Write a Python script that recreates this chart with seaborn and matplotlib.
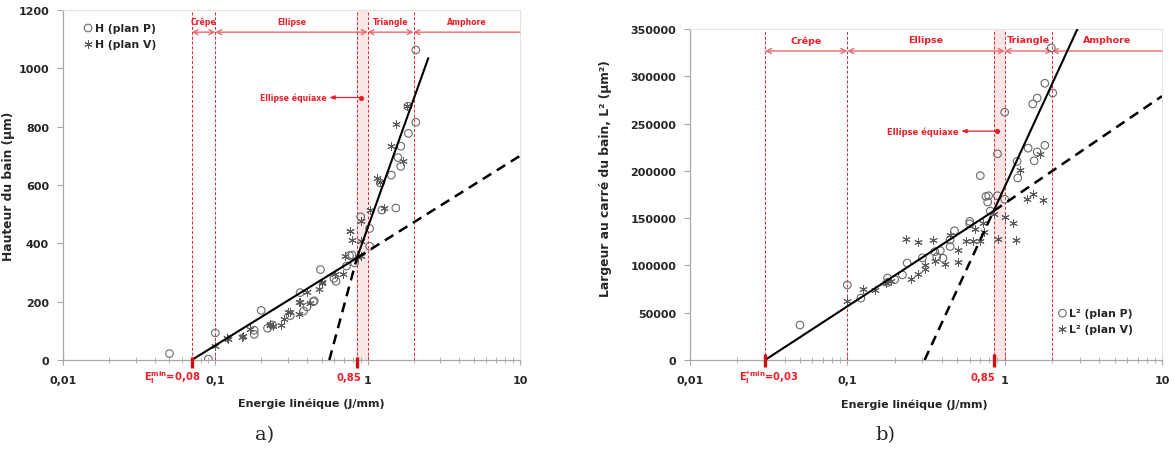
import numpy as np
import pandas as pd
import matplotlib
matplotlib.use("Agg")
import matplotlib.pyplot as plt
import matplotlib.transforms as mtransforms
import seaborn as sns

# ---------------- data : panel a) H ----------------
hp_x = [0.05, 0.09, 0.10, 0.18, 0.18, 0.20, 0.22, 0.237, 0.31, 0.36, 0.38, 0.40, 0.44, 0.446, 0.49,
        0.60, 0.62, 0.726, 0.76, 0.79, 0.82, 0.90, 1.03, 1.03, 1.21, 1.24, 1.43, 1.53, 1.58, 1.65,
        1.65, 1.84, 1.85, 2.07, 2.07]
hp_y = [22, 3, 93, 102, 88, 170, 109, 120, 152, 231, 168, 182, 200, 203, 310,
        280, 270, 322, 358, 360, 333, 491, 451, 390, 607, 514, 634, 521, 694, 733,
        664, 870, 777, 815, 1063]
hv_x = [0.10, 0.12, 0.121, 0.15, 0.152, 0.17, 0.229, 0.23, 0.24, 0.27, 0.284, 0.30, 0.31, 0.354,
        0.355, 0.36, 0.40, 0.42, 0.48, 0.50, 0.50, 0.61, 0.69, 0.71, 0.76, 0.77, 0.79, 0.87, 0.90,
        0.90, 0.90, 1.03, 1.16, 1.21, 1.28, 1.43, 1.53, 1.70, 1.81]
hv_y = [49, 74, 72, 80, 81, 106, 120, 122, 115, 120, 141, 166, 163, 157,
        198, 198, 234, 194, 245, 263, 268, 295, 295, 357, 443, 442, 412, 353, 357,
        409, 478, 516, 623, 609, 521, 735, 809, 683, 872]

# fit lines panel a)
fitA_low_x, fitA_low_y = [0.07, 0.85], [0, 350]
fitA_high_x, fitA_high_y = [0.85, 2.5], [350, 1035]
fitA_lowext_x, fitA_lowext_y = [0.85, 10], [350, 700]
fitA_highext_x, fitA_highext_y = [0.56, 0.85], [0, 350]
eqA_x, eqA_y, eqA_arrow_to = 0.9, 900, 0.56

# ---------------- data : panel b) L^2 ----------------
lp_x = [0.05, 0.10, 0.122, 0.18, 0.18, 0.20, 0.224, 0.24, 0.30, 0.36, 0.37, 0.39, 0.406, 0.45,
        0.45, 0.48, 0.60, 0.60, 0.70, 0.76, 0.78, 0.79, 0.81, 0.90, 0.90, 1.00, 1.00, 1.20, 1.21,
        1.41, 1.51, 1.54, 1.61, 1.61, 1.80, 1.80, 1.98, 2.02]
lp_y = [37000, 79300, 65500, 86700, 82000, 85000, 90000, 102500, 108000, 114500, 109000, 115600, 107500, 120000,
        127000, 136700, 146600, 144000, 195000, 173000, 167000, 173700, 157500, 218000, 173700, 262000, 170000, 210000, 192500,
        224000, 270700, 210700, 220000, 277000, 227000, 292600, 330000, 282300]
lv_x = [0.10, 0.126, 0.15, 0.175, 0.19, 0.235, 0.253, 0.28, 0.28, 0.31, 0.31, 0.35, 0.36, 0.42,
        0.45, 0.505, 0.505, 0.565, 0.63, 0.65, 0.70, 0.73, 0.74, 0.855, 0.91, 1.00, 1.13, 1.18,
        1.25, 1.39, 1.52, 1.68, 1.76]
lv_y = [62000, 75000, 74300, 81400, 84000, 128000, 85700, 124500, 91000, 96200, 100000, 127300, 105000, 101500,
        132500, 103300, 116600, 126000, 126000, 138500, 126000, 145000, 135000, 154000, 128000, 151500, 144500, 127000,
        201000, 170000, 175500, 218000, 169000]

fitB_low_x, fitB_low_y = [0.03, 0.85], [0, 157500]
fitB_high_x, fitB_high_y = [0.85, 2.9], [157500, 350000]
fitB_lowext_x, fitB_lowext_y = [0.85, 10], [157500, 279000]
fitB_highext_x, fitB_highext_y = [0.31, 0.85], [0, 157500]
eqB_x, eqB_y, eqB_arrow_to = 0.9, 242000, 0.53

# regions
regions = ["Crêpe", "Ellipse", "Triangle", "Amphore"]
boundsA = [0.07, 0.1, 1.0, 2.0, 10]
boundsB = [0.03, 0.1, 1.0, 2.0, 10]
band = [0.85, 1.0]
regA_y, regB_y = 1124, 326700

xticks = [0.01, 0.1, 1, 10]
xticklabels = ["0,01", "0,1", "1", "10"]
yticksA = list(range(0, 1201, 200))
yticksB = list(range(0, 350001, 50000))

RED = "#e8202a"
LRED = "#e76a6e"
GREY = "#555555"

sns.set_style("white")
plt.rcParams["font.family"] = ["DejaVu Sans"]
plt.rcParams["font.weight"] = "bold"
plt.rcParams["mathtext.default"] = "regular"

fig = plt.figure(figsize=(11.75, 4.52), dpi=100)
axA = fig.add_axes([63 / 1175, 1 - 361 / 452, 457 / 1175, 350 / 452])
axB = fig.add_axes([690 / 1175, 1 - 361 / 452, 472 / 1175, 331 / 452])


def style_axes(ax, ylim, yticks, ylabel, ylabel_pos, xlabel_pos):
    ax.set_xscale("log")
    ax.set_xlim(0.01, 10)
    ax.set_ylim(*ylim)
    ax.set_xticks(xticks)
    ax.set_xticklabels(xticklabels)
    ax.set_yticks(yticks)
    ax.set_yticklabels([str(v) for v in yticks])
    for s in ["top", "right"]:
        ax.spines[s].set_color("#e3e3e3")
        ax.spines[s].set_linewidth(0.8)
    for s in ["left", "bottom"]:
        ax.spines[s].set_color("#a8a8a8")
        ax.spines[s].set_linewidth(0.9)
    ax.tick_params(axis="x", which="major", direction="inout", length=7, width=0.8,
                   color="#a8a8a8", labelsize=8, pad=7, bottom=True)
    ax.tick_params(axis="x", which="minor", direction="inout", length=5, width=0.6,
                   color="#a8a8a8", bottom=True)
    ax.tick_params(axis="y", which="major", direction="out", length=4, width=0.8,
                   color="#a8a8a8", labelsize=8, pad=6, left=True)
    for lab in ax.get_xticklabels() + ax.get_yticklabels():
        lab.set_fontweight("bold")
    ax.set_ylabel(ylabel, fontsize=8.8, fontweight="bold")
    ax.yaxis.set_label_coords(*ylabel_pos)
    ax.set_xlabel("Energie linéique (J/mm)", fontsize=8.0, fontweight="bold")
    ax.xaxis.set_label_coords(*xlabel_pos)


def regions_draw(ax, bounds, yreg, fs, label_dy):
    for b in bounds[:-1] + [band[0]]:
        ax.axvline(b, color=RED, ls=(0, (3, 2)), lw=0.7, zorder=1)
    ax.axvspan(band[0], band[1], color="#fbe6e6", zorder=0, lw=0)
    for i, name in enumerate(regions):
        a, b = bounds[i], bounds[i + 1]
        style = "<->,head_length=0.35,head_width=0.18" if i < 3 else "<-,head_length=0.35,head_width=0.18"
        ax.annotate("", xy=(b, yreg), xytext=(a, yreg),
                    arrowprops=dict(arrowstyle=style, color=LRED, lw=1.0, shrinkA=0, shrinkB=0))
        ax.annotate(name, xy=(np.sqrt(a * b), yreg), xytext=(0, label_dy), textcoords="offset points",
                    ha="center", va="center", color=RED, fontsize=fs, fontweight="bold")


def red_ticks(ax, xs, up, down):
    tr = mtransforms.blended_transform_factory(ax.transData, ax.transAxes)
    for x in xs:
        ax.plot([x, x], [up, down], transform=tr, color="#d01010", lw=2.4, clip_on=False, zorder=6,
                solid_capstyle="butt")


def scatter_pair(ax, xp, yp, xv, yv, labp, labv):
    sns.scatterplot(x=xp, y=yp, ax=ax, marker="o", s=30, color=GREY, facecolor="none",
                    edgecolor="#6a6a6a", linewidth=0.8, label=labp, zorder=3)
    sns.scatterplot(x=xv, y=yv, ax=ax, marker=(6, 2, 0), s=30, color="#5a5a5a",
                    linewidth=0.7, label=labv, zorder=3)


def fits(ax, solid, dashed):
    for x, y in solid:
        sns.lineplot(x=x, y=y, ax=ax, color="black", lw=1.5, estimator=None, sort=False, zorder=4)
    for x, y in dashed:
        sns.lineplot(x=x, y=y, ax=ax, color="black", lw=1.8, estimator=None, sort=False,
                     linestyle=(0, (4, 2.6)), zorder=4)


# ---------------- panel a ----------------
axA.set_xscale("log")
regions_draw(axA, boundsA, regA_y, 5.6, 8)
scatter_pair(axA, hp_x, hp_y, hv_x, hv_y, "H (plan P)", "H (plan V)")
fits(axA, [(fitA_low_x, fitA_low_y), (fitA_high_x, fitA_high_y)],
     [(fitA_lowext_x, fitA_lowext_y), (fitA_highext_x, fitA_highext_y)])
axA.annotate("", xy=(eqA_arrow_to, eqA_y), xytext=(eqA_x, eqA_y),
             arrowprops=dict(arrowstyle="-|>,head_length=0.3,head_width=0.12", color=RED, lw=0.9,
                             shrinkA=0, shrinkB=0))
sns.scatterplot(x=[eqA_x], y=[eqA_y], ax=axA, color=RED, s=14, linewidth=0, zorder=5)
axA.annotate("Ellipse équiaxe", xy=(eqA_arrow_to, eqA_y), xytext=(-2, 0), textcoords="offset points",
             ha="right", va="center", color=RED, fontsize=5.6, fontweight="bold")
style_axes(axA, (0, 1200), yticksA, "Hauteur du bain (µm)", (-0.105, 0.5), (0.543, -0.108))
legA = axA.legend(loc="upper left", bbox_to_anchor=(0.03, 0.985), frameon=False, fontsize=7.8,
                  handlelength=0.7, handletextpad=0.3, labelspacing=0.55, borderpad=0.2)
for t in legA.get_texts():
    t.set_fontweight("bold")
red_ticks(axA, [boundsA[0], band[0]], 0.009, -0.022)
trA = mtransforms.blended_transform_factory(axA.transData, axA.transAxes)
axA.annotate(r"E$_{\mathregular{l}}^{\mathregular{min}}$=0,08", xy=(0.08, 0), xycoords=trA,
             xytext=(0, -12.3), textcoords="offset points", ha="right", va="center",
             color=RED, fontsize=7.2, fontweight="bold")
axA.annotate("0,85", xy=(band[0], 0), xycoords=trA, xytext=(3, -12.3), textcoords="offset points",
             ha="right", va="center", color=RED, fontsize=7.2, fontweight="bold")

# ---------------- panel b ----------------
axB.set_xscale("log")
regions_draw(axB, boundsB, regB_y, 6.8, 8)
scatter_pair(axB, lp_x, lp_y, lv_x, lv_y, "L² (plan P)", "L² (plan V)")
fits(axB, [(fitB_low_x, fitB_low_y), (fitB_high_x, fitB_high_y)],
     [(fitB_lowext_x, fitB_lowext_y), (fitB_highext_x, fitB_highext_y)])
axB.annotate("", xy=(eqB_arrow_to, eqB_y), xytext=(eqB_x, eqB_y),
             arrowprops=dict(arrowstyle="-|>,head_length=0.3,head_width=0.12", color=RED, lw=0.9,
                             shrinkA=0, shrinkB=0))
sns.scatterplot(x=[eqB_x], y=[eqB_y], ax=axB, color=RED, s=14, linewidth=0, zorder=5)
axB.annotate("Ellipse équiaxe", xy=(eqB_arrow_to, eqB_y), xytext=(-2, 0), textcoords="offset points",
             ha="right", va="center", color=RED, fontsize=6.0, fontweight="bold")
style_axes(axB, (0, 350000), yticksB, "Largeur au carré du bain, L² (µm²)", (-0.165, 0.55), (0.475, -0.115))
legB = axB.legend(loc="upper left", bbox_to_anchor=(0.765, 0.18), frameon=False, fontsize=7.8,
                  handlelength=0.7, handletextpad=0.3, labelspacing=0.55, borderpad=0.2)
for t in legB.get_texts():
    t.set_fontweight("bold")
red_ticks(axB, [boundsB[0], band[0]], 0.018, -0.022)
trB = mtransforms.blended_transform_factory(axB.transData, axB.transAxes)
axB.annotate(r"E$_{\mathregular{l}}^{\mathregular{*min}}$=0,03", xy=(boundsB[0], 0), xycoords=trB,
             xytext=(3, -12.3), textcoords="offset points", ha="center", va="center",
             color=RED, fontsize=7.2, fontweight="bold")
axB.annotate("0,85", xy=(band[0], 0), xycoords=trB, xytext=(1.5, -12.3), textcoords="offset points",
             ha="right", va="center", color=RED, fontsize=7.2, fontweight="bold")

fig.text(265 / 1175, 1 - 435 / 452, "a)", fontsize=14, fontweight="normal", family="DejaVu Serif",
         ha="center", va="center")
fig.text(885 / 1175, 1 - 435 / 452, "b)", fontsize=14, fontweight="normal", family="DejaVu Serif",
         ha="center", va="center")

fig.savefig("out.png", dpi=100, facecolor="white")
